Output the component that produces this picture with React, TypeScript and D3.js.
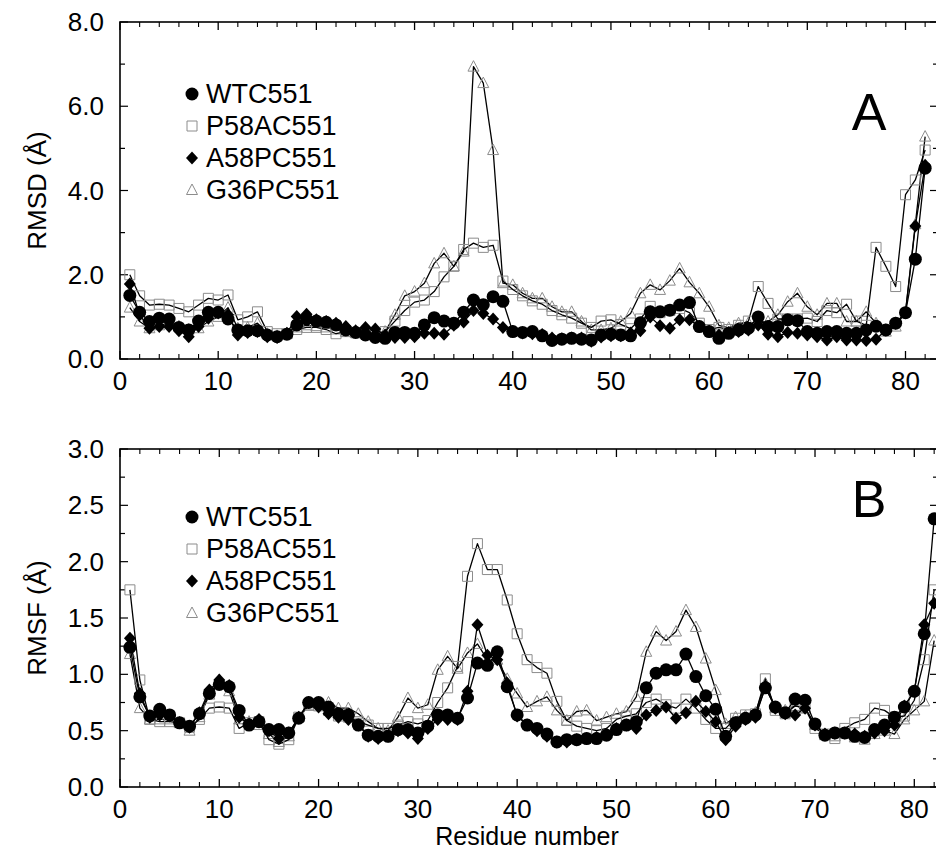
import React from "react";
import * as d3 from "d3";

const residues = d3.range(1, 83);

// Panel A: RMSD
const wtcA = [1.51,1.11,0.89,0.97,0.95,0.75,0.69,0.90,1.11,1.11,
0.95,0.69,0.67,0.67,0.57,0.53,0.59,0.81,0.95,0.90,
0.87,0.81,0.69,0.63,0.57,0.51,0.49,0.63,0.63,0.61,
0.81,0.98,0.90,0.85,1.11,1.40,1.29,1.48,1.37,0.65,
0.63,0.65,0.55,0.44,0.47,0.49,0.47,0.45,0.57,0.59,
0.57,0.55,0.86,1.12,1.12,1.16,1.28,1.34,0.77,0.65,
0.49,0.61,0.69,0.73,1.00,0.77,0.77,0.93,0.91,0.65,
0.61,0.65,0.65,0.61,0.61,0.69,0.78,0.69,0.85,1.10,
2.37,4.53];
const p58aA = [2.0,1.5,1.28,1.3,1.28,1.2,1.12,1.28,1.44,1.4,
1.52,0.93,1.0,1.12,0.65,0.6,0.6,0.7,0.75,0.75,
0.7,0.6,0.65,0.62,0.6,0.58,0.65,0.9,1.15,1.35,
1.4,1.6,1.95,2.2,2.6,2.75,2.65,2.7,1.85,1.65,
1.5,1.38,1.3,1.15,1.05,0.97,0.85,0.75,0.9,0.93,
0.82,0.72,0.95,1.25,1.1,1.15,1.2,1.1,0.85,0.7,
0.75,0.7,0.8,0.9,1.72,1.32,0.95,0.95,0.95,0.97,
0.89,1.15,1.1,1.3,0.9,0.8,2.65,2.2,1.72,3.9,
4.25,4.96];
const a58pA = [1.78,1.05,0.73,0.77,0.77,0.67,0.53,0.77,0.97,1.09,
1.05,0.57,0.63,0.65,0.53,0.51,0.61,1.01,1.06,0.93,
0.89,0.85,0.77,0.67,0.75,0.71,0.57,0.51,0.51,0.53,
0.61,0.61,0.59,0.8,0.88,1.15,1.08,0.95,0.75,0.65,
0.62,0.6,0.58,0.5,0.48,0.5,0.5,0.42,0.52,0.55,
0.55,0.62,0.67,1.0,0.79,0.73,0.93,0.93,0.77,0.65,
0.57,0.63,0.65,0.69,0.81,0.59,0.53,0.63,0.61,0.57,
0.53,0.45,0.53,0.45,0.45,0.44,0.47,0.69,0.85,1.1,
3.16,4.6];
const g36pA = [1.22,0.89,0.73,0.8,0.85,0.78,0.7,0.73,0.89,1.0,
1.22,0.73,0.75,0.85,0.6,0.55,0.6,0.75,0.8,0.78,
0.75,0.7,0.65,0.62,0.6,0.62,0.65,1.05,1.5,1.6,
1.8,2.27,2.51,2.2,2.55,6.94,6.55,4.96,1.8,1.76,
1.56,1.44,1.44,1.24,1.12,1.12,0.89,0.69,0.69,0.73,
0.89,1.08,1.56,1.76,1.64,1.86,2.15,1.82,1.56,1.24,
0.8,0.74,0.85,0.86,0.85,0.89,1.05,1.36,1.56,1.24,
1.05,1.32,1.32,0.89,0.89,1.12,0.85,0.65,0.77,1.12,
3.2,5.28];

// Panel B: RMSF
const wtcB = [1.24,0.80,0.63,0.69,0.64,0.57,0.54,0.65,0.83,0.91,
0.89,0.68,0.55,0.58,0.51,0.51,0.48,0.61,0.75,0.75,
0.71,0.65,0.64,0.55,0.46,0.45,0.45,0.51,0.51,0.48,
0.54,0.64,0.64,0.61,0.79,1.10,1.08,1.20,0.89,0.64,
0.55,0.52,0.47,0.40,0.42,0.42,0.43,0.43,0.46,0.51,
0.55,0.58,0.88,1.01,1.04,1.04,1.18,0.98,0.81,0.69,
0.45,0.57,0.61,0.64,0.88,0.71,0.66,0.78,0.77,0.56,
0.46,0.48,0.48,0.45,0.44,0.51,0.55,0.62,0.71,0.85,
1.36,2.38];
const p58aB = [1.75,0.95,0.6,0.58,0.58,0.57,0.53,0.6,0.7,0.71,
0.7,0.52,0.57,0.58,0.42,0.38,0.42,0.62,0.73,0.72,
0.68,0.63,0.62,0.58,0.55,0.52,0.52,0.55,0.58,0.56,
0.59,0.75,0.88,1.07,1.87,2.16,1.93,1.93,1.66,1.36,
1.13,1.06,1.01,0.76,0.59,0.54,0.52,0.5,0.52,0.6,
0.63,0.65,0.75,0.78,0.73,0.7,0.78,0.7,0.6,0.52,
0.52,0.61,0.64,0.65,0.96,0.68,0.65,0.72,0.7,0.52,
0.47,0.43,0.52,0.57,0.6,0.7,0.68,0.62,0.63,0.77,
1.13,1.75];
const a58pB = [1.32,0.83,0.62,0.64,0.63,0.57,0.53,0.66,0.86,0.95,
0.90,0.62,0.56,0.6,0.5,0.43,0.48,0.62,0.75,0.71,
0.65,0.62,0.6,0.55,0.45,0.43,0.45,0.5,0.48,0.43,
0.52,0.6,0.6,0.6,0.85,1.44,1.17,1.13,0.92,0.63,
0.55,0.5,0.45,0.4,0.4,0.42,0.43,0.44,0.47,0.52,
0.55,0.52,0.64,0.68,0.71,0.61,0.66,0.76,0.67,0.58,
0.42,0.54,0.6,0.62,0.89,0.7,0.65,0.64,0.7,0.55,
0.47,0.48,0.48,0.47,0.45,0.48,0.5,0.55,0.72,0.85,
1.44,1.63];
const g36pB = [1.18,0.7,0.6,0.6,0.6,0.57,0.5,0.62,0.82,0.95,
0.85,0.6,0.58,0.55,0.47,0.4,0.45,0.62,0.72,0.75,
0.75,0.7,0.7,0.65,0.58,0.52,0.5,0.62,0.79,0.7,
0.73,1.04,1.16,1.05,1.19,1.27,1.13,1.13,0.96,0.83,
0.71,0.76,0.8,0.68,0.59,0.67,0.68,0.59,0.62,0.65,
0.67,0.8,1.2,1.38,1.3,1.38,1.57,1.42,1.14,0.86,
0.56,0.62,0.63,0.66,0.92,0.7,0.68,0.72,0.7,0.55,
0.46,0.45,0.47,0.44,0.42,0.47,0.5,0.47,0.6,0.68,
0.76,1.3];

const seriesNames = ["WTC551", "P58AC551", "A58PC551", "G36PC551"];
const xTickLabels = ["0", "10", "20", "30", "40", "50", "60", "70", "80"];

const FONT = "'Liberation Sans', Arial, Helvetica, sans-serif";
const GRAY = "#8c8c8c";

type Kind = "circle" | "square" | "diamond" | "triangle";
const kinds: Kind[] = ["circle", "square", "diamond", "triangle"];

function markerPath(kind: Kind, x: number, y: number): string {
  if (kind === "square") {
    const h = 5;
    return `M${x - h},${y - h}H${x + h}V${y + h}H${x - h}Z`;
  }
  if (kind === "diamond") {
    return `M${x},${y - 6.5}L${x + 6},${y}L${x},${y + 6.5}L${x - 6},${y}Z`;
  }
  if (kind === "triangle") {
    return `M${x},${y - 6}L${x + 5.5},${y + 4.5}L${x - 5.5},${y + 4.5}Z`;
  }
  return "";
}

function Marker({ kind, x, y }: { kind: Kind; x: number; y: number }) {
  if (kind === "circle") return <circle cx={x} cy={y} r={6.5} fill="#000" />;
  if (kind === "diamond") return <path d={markerPath(kind, x, y)} fill="#000" />;
  return <path d={markerPath(kind, x, y)} fill="none" stroke={GRAY} strokeWidth={1} />;
}

interface PanelProps {
  top: number;
  bottom: number;
  x80: number;
  yMax: number;
  yMajor: number;
  yMinor: number;
  yFmt: (v: number) => string;
  data: number[][];
  letter: string;
  letterY: number;
  legendY: number;
  ylabel: string;
}

function Panel(p: PanelProps) {
  const left = 120;
  const right = 938;
  const x = d3.scaleLinear().domain([0, 80]).range([left, p.x80]);
  const y = d3.scaleLinear().domain([0, p.yMax]).range([p.bottom, p.top]);
  const line = d3
    .line<number>()
    .x((_, i) => x(residues[i]))
    .y((v) => y(v));

  const xMinor = d3.range(0, 84, 2).filter((v) => v % 10 !== 0 && x(v) < right);
  const xMajor = d3.range(0, 90, 10).filter((v) => x(v) < right);
  const nY = Math.round(p.yMax / p.yMinor);
  const yTicks = d3.range(0, nY + 1).map((i) => i * p.yMinor);
  const isMajor = (v: number) => Math.abs(v / p.yMajor - Math.round(v / p.yMajor)) < 1e-6;

  const drawOrder = [3, 1, 2, 0];
  return (
    <g>
      {xMajor.map((v) => (
        <g key={"xM" + v}>
          <line x1={x(v)} x2={x(v)} y1={p.bottom} y2={p.bottom - 8} stroke="#000" strokeWidth={1.3} />
          <line x1={x(v)} x2={x(v)} y1={p.top} y2={p.top + 8} stroke="#000" strokeWidth={1.3} />
          <text x={x(v)} y={p.bottom + 31} textAnchor="middle" fontSize={26} fontFamily={FONT}>
            {xTickLabels[v / 10]}
          </text>
        </g>
      ))}
      {xMinor.map((v) => (
        <g key={"xm" + v}>
          <line x1={x(v)} x2={x(v)} y1={p.bottom} y2={p.bottom - 5} stroke="#000" strokeWidth={1.1} />
          <line x1={x(v)} x2={x(v)} y1={p.top} y2={p.top + 5} stroke="#000" strokeWidth={1.1} />
        </g>
      ))}
      {yTicks.map((v) => {
        const len = isMajor(v) ? 8 : 5;
        return (
          <g key={"y" + v}>
            <line x1={left} x2={left + len} y1={y(v)} y2={y(v)} stroke="#000" strokeWidth={1.2} />
            <line x1={right} x2={right - len} y1={y(v)} y2={y(v)} stroke="#000" strokeWidth={1.2} />
            {isMajor(v) && (
              <text x={104} y={y(v) + 9} textAnchor="end" fontSize={26} fontFamily={FONT}>
                {p.yFmt(v)}
              </text>
            )}
          </g>
        );
      })}
      <rect x={left} y={p.top} width={right - left} height={p.bottom - p.top} fill="none" stroke="#000" strokeWidth={1.6} />

      {drawOrder.map((si) => (
        <g key={"s" + si}>
          <path d={line(p.data[si]) || ""} fill="none" stroke="#000" strokeWidth={1.3} strokeLinejoin="round" />
          {p.data[si].map((v, i) => (
            <Marker key={i} kind={kinds[si]} x={x(residues[i])} y={y(v)} />
          ))}
        </g>
      ))}

      {seriesNames.map((name, i) => {
        const ly = p.legendY + i * 32;
        return (
          <g key={"lg" + i}>
            <Marker kind={kinds[i]} x={192} y={ly} />
            <text x={206} y={ly + 9} fontSize={27} fontFamily={FONT}>
              {name}
            </text>
          </g>
        );
      })}

      <text x={869} y={p.letterY} textAnchor="middle" fontSize={52} fontFamily={FONT}>
        {p.letter}
      </text>

      <text
        transform={`translate(46,${(p.top + p.bottom) / 2}) rotate(-90)`}
        textAnchor="middle"
        fontSize={26}
        fontFamily={FONT}
      >
        {p.ylabel}
      </text>
    </g>
  );
}

export default function App() {
  return (
    <svg
      width={936}
      height={853}
      style={{ position: "absolute", left: 0, top: 0, background: "#fff" }}
    >
      <rect x={0} y={0} width={936} height={853} fill="#fff" />
      <Panel
        top={22}
        bottom={359}
        x80={905.5}
        yMax={8}
        yMajor={2}
        yMinor={1}
        yFmt={(v) => v.toFixed(1)}
        data={[wtcA, p58aA, a58pA, g36pA]}
        letter="A"
        letterY={130}
        legendY={94}
        ylabel="RMSD (Å)"
      />
      <Panel
        top={449}
        bottom={787}
        x80={914.3}
        yMax={3}
        yMajor={0.5}
        yMinor={0.25}
        yFmt={(v) => v.toFixed(1)}
        data={[wtcB, p58aB, a58pB, g36pB]}
        letter="B"
        letterY={517}
        legendY={517}
        ylabel="RMSF (Å)"
      />
      <text x={527} y={845} textAnchor="middle" fontSize={25} fontFamily={FONT}>
        Residue number
      </text>
    </svg>
  );
}
